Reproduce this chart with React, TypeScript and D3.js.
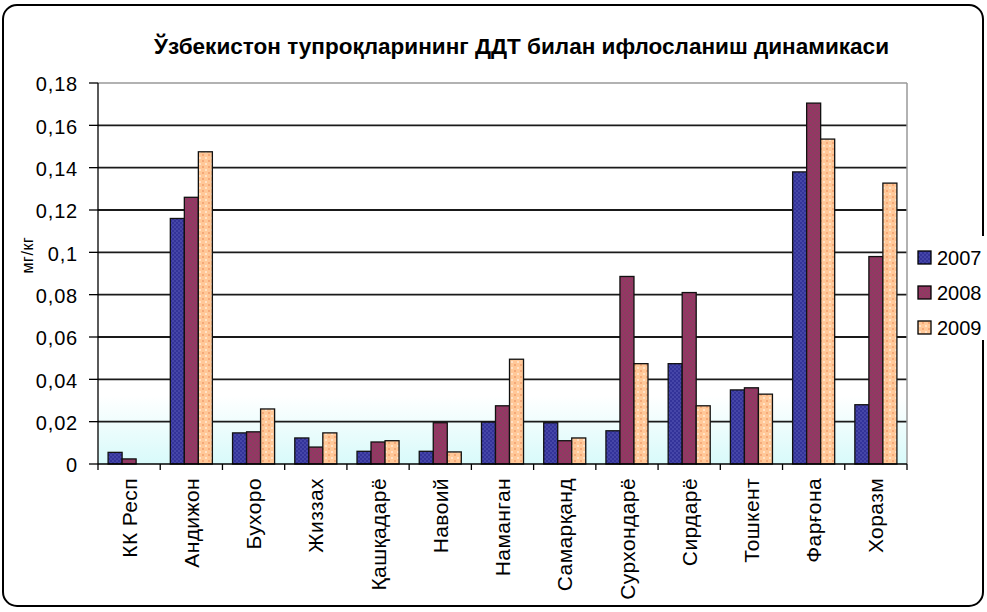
import React from "react";
import * as d3 from "d3";

const categories = ["КК Респ", "Андижон", "Бухоро", "Жиззах", "Қашқадарё", "Навоий", "Наманган", "Самарқанд", "Сурхондарё", "Сирдарё", "Тошкент", "Фарғона", "Хоразм"];
const series = ["2007", "2008", "2009"];
const v2007 = [0.0055, 0.116, 0.0147, 0.0123, 0.006, 0.006, 0.0198, 0.0195, 0.0157, 0.0474, 0.035, 0.138, 0.028];
const v2008 = [0.0024, 0.126, 0.0152, 0.008, 0.0104, 0.0195, 0.0275, 0.011, 0.0886, 0.081, 0.036, 0.1705, 0.098];
const v2009 = [0, 0.1475, 0.026, 0.0147, 0.011, 0.0057, 0.0495, 0.0123, 0.0474, 0.0275, 0.033, 0.1535, 0.1327];
const yTicks = [0, 0.02, 0.04, 0.06, 0.08, 0.1, 0.12, 0.14, 0.16, 0.18];
const title = "Ўзбекистон тупроқларининг ДДТ билан ифлосланиш динамикаси";
const yTitle = "мг/кг";

const FONT = "'Liberation Sans', Arial, sans-serif";

export default function App() {
  const W = 987, H = 612;
  const left = 98, right = 907, top = 83, bottom = 464;
  const x = d3.scaleBand<string>().domain(categories).range([left, right]).paddingInner(0).paddingOuter(0);
  const y = d3.scaleLinear().domain([0, 0.18]).range([bottom, top]);
  const inner = d3.scaleBand<string>().domain(series).range([0, x.bandwidth()]).paddingOuter(0.72).paddingInner(0);
  const data = [v2007, v2008, v2009];
  const fills = ["url(#p2007)", "url(#p2008)", "url(#p2009)"];
  const fmt = (d: number) => String(d).replace(".", ",");

  return (
    <svg width={W} height={H} style={{ position: "absolute", left: 0, top: 0, background: "#fff" }} fontFamily={FONT}>
      <defs>
        <linearGradient id="plotbg" x1="0" y1="0" x2="0" y2="1">
          <stop offset="0.82" stopColor="#ffffff" />
          <stop offset="1" stopColor="#d8fafa" />
        </linearGradient>
        <pattern id="p2007" width="4" height="4" patternUnits="userSpaceOnUse">
          <rect width="4" height="4" fill="#333399" />
          <rect width="2" height="2" fill="#4646a8" />
          <rect x="2" y="2" width="2" height="2" fill="#4646a8" />
        </pattern>
        <pattern id="p2008" width="4" height="4" patternUnits="userSpaceOnUse">
          <rect width="4" height="4" fill="#993366" />
          <rect width="2" height="2" fill="#88405f" />
          <rect x="2" y="2" width="2" height="2" fill="#88405f" />
        </pattern>
        <pattern id="p2009" width="6" height="6" patternUnits="userSpaceOnUse">
          <rect width="6" height="6" fill="#ffc898" />
          <rect x="1" y="1" width="2" height="2" fill="#ffe2c8" />
          <rect x="4" y="4" width="2" height="2" fill="#f5a878" />
        </pattern>
      </defs>
      <rect x={3} y={5} width={980} height={601} rx={14} fill="#fff" stroke="#000" strokeWidth={2} />
      <text x={154} y={54} fontSize={22} fontWeight="bold" textLength={735} lengthAdjust="spacingAndGlyphs">{title}</text>

      <rect x={left} y={top} width={right - left} height={bottom - top} fill="url(#plotbg)" />
      {yTicks.slice(1, -1).map((t) => (
        <line key={t} x1={left} x2={right} y1={y(t)} y2={y(t)} stroke="#1a1a1a" strokeWidth={1.8} />
      ))}
      <line x1={left} x2={right} y1={top} y2={top} stroke="#999" strokeWidth={1.5} />
      <line x1={right} x2={right} y1={top} y2={bottom} stroke="#999" strokeWidth={1.5} />

      {categories.map((c, i) => (
        <g key={c}>
          {data.map((arr, s) => {
            const v = arr[i];
            if (v <= 0) return null;
            const bx = (x(c) as number) + (inner(series[s]) as number);
            return (
              <rect key={s} x={bx} y={y(v)} width={inner.bandwidth()} height={bottom - y(v)} fill={fills[s]} stroke="#111" strokeWidth={1.3} />
            );
          })}
        </g>
      ))}

      <line x1={left} x2={left} y1={top} y2={bottom} stroke="#000" strokeWidth={1.3} />
      <line x1={left} x2={right} y1={bottom} y2={bottom} stroke="#000" strokeWidth={1.3} />
      {yTicks.map((t) => (
        <g key={t}>
          <line x1={left - 9} x2={left} y1={y(t)} y2={y(t)} stroke="#000" strokeWidth={1.3} />
          <text x={78} y={y(t)} dy="0.42em" textAnchor="end" fontSize={20} letterSpacing={0.8}>{fmt(t)}</text>
        </g>
      ))}
      {categories.map((c, i) => (
        <line key={"t" + i} x1={x(c)} x2={x(c)} y1={bottom} y2={bottom + 6} stroke="#000" strokeWidth={1.3} />
      ))}
      <line x1={right} x2={right} y1={bottom} y2={bottom + 6} stroke="#000" strokeWidth={1.3} />
      {categories.map((c) => {
        const cx = (x(c) as number) + x.bandwidth() / 2;
        return (
          <text key={"l" + c} transform={`translate(${cx},${bottom + 14}) rotate(-90)`} textAnchor="end" dy="0.36em" fontSize={21} letterSpacing={0.4}>{c}</text>
        );
      })}
      <text transform={`translate(27,255) rotate(-90)`} textAnchor="middle" dy="0.36em" fontSize={16} letterSpacing={0.6}>{yTitle}</text>

      <rect x={908} y={236} width={79} height={104} fill="#fff" />
      {series.map((s, i) => (
        <g key={s}>
          <rect x={918} y={251 + i * 35} width={13} height={13} fill={fills[i]} stroke="#000" strokeWidth={1.3} />
          <text x={937} y={257.5 + i * 35} dy="0.36em" fontSize={20}>{s}</text>
        </g>
      ))}
    </svg>
  );
}
